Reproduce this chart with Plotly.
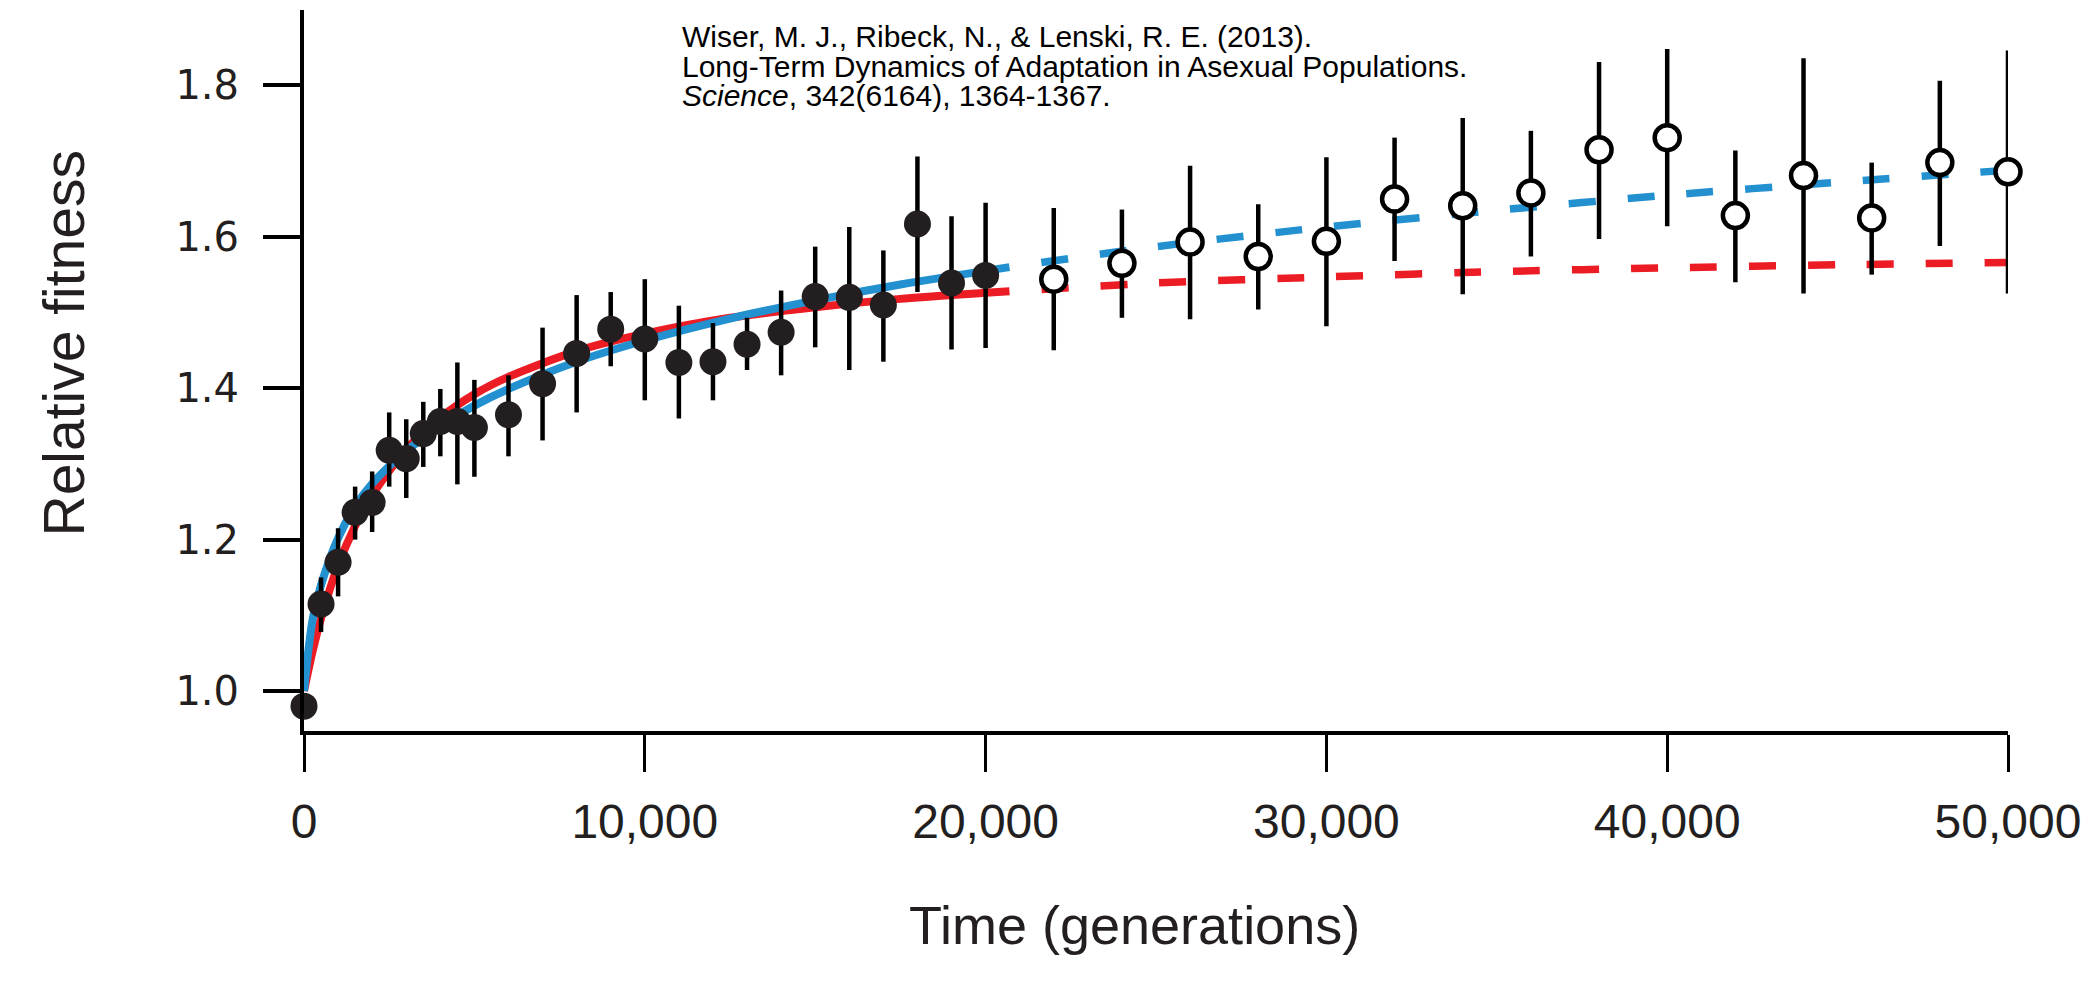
import plotly.graph_objects as go

# ---- data ----
# Fitness measurements, 0-20,000 generations (filled symbols)
gen_early = [0, 500, 1000, 1500, 2000, 2500, 3000, 3500, 4000, 4500, 5000, 6000, 7000,
             8000, 9000, 10000, 11000, 12000, 13000, 14000, 15000, 16000, 17000, 18000,
             19000, 20000]
fit_early = [0.980, 1.115, 1.170, 1.236, 1.249, 1.318, 1.307, 1.340, 1.356, 1.356, 1.348,
             1.365, 1.406, 1.446, 1.478, 1.465, 1.434, 1.435, 1.458, 1.474, 1.521, 1.520,
             1.510, 1.617, 1.539, 1.549]
hi_early = [0.980, 1.150, 1.215, 1.270, 1.290, 1.368, 1.359, 1.382, 1.399, 1.434, 1.411,
            1.417, 1.480, 1.523, 1.527, 1.544, 1.509, 1.486, 1.493, 1.529, 1.587, 1.613,
            1.582, 1.706, 1.627, 1.645]
lo_early = [0.980, 1.078, 1.125, 1.200, 1.210, 1.270, 1.255, 1.296, 1.310, 1.273, 1.283,
            1.310, 1.331, 1.368, 1.429, 1.384, 1.360, 1.384, 1.424, 1.417, 1.454, 1.424,
            1.435, 1.527, 1.451, 1.453]

# Fitness measurements, 22,000-50,000 generations (open symbols)
gen_late = [22000, 24000, 26000, 28000, 30000, 32000, 34000, 36000, 38000, 40000, 42000,
            44000, 46000, 48000, 50000]
fit_late = [1.544, 1.565, 1.593, 1.574, 1.594, 1.650, 1.641, 1.658, 1.715, 1.731, 1.628,
            1.681, 1.625, 1.698, 1.686]
hi_late = [1.638, 1.636, 1.694, 1.643, 1.705, 1.731, 1.757, 1.740, 1.831, 1.848, 1.714,
           1.836, 1.698, 1.806, 1.846]
lo_late = [1.450, 1.493, 1.491, 1.504, 1.482, 1.568, 1.524, 1.574, 1.597, 1.614, 1.540,
           1.525, 1.550, 1.588, 1.525]

# Fitted trajectories
curve_gen_fit = [0, 250, 500, 1000, 1500, 2000, 3000, 4000, 5000, 6000, 8000, 10000,
                 12500, 15000, 17500, 20700]
power_fit = [1.000, 1.094, 1.140, 1.202, 1.244, 1.274, 1.317, 1.350, 1.377, 1.399, 1.435,
             1.463, 1.492, 1.516, 1.537, 1.560]
hyper_fit = [1.000, 1.052, 1.096, 1.166, 1.218, 1.259, 1.319, 1.361, 1.392, 1.415, 1.449,
             1.472, 1.493, 1.507, 1.518, 1.528]

curve_gen_pred = [20700, 25000, 30000, 35000, 40000, 45000, 50000]
power_pred = [1.560, 1.587, 1.613, 1.635, 1.655, 1.672, 1.688]
hyper_pred = [1.528, 1.539, 1.547, 1.554, 1.559, 1.563, 1.566]

x_ticks = [0, 10000, 20000, 30000, 40000, 50000]
x_ticklabels = ["0", "10,000", "20,000", "30,000", "40,000", "50,000"]
y_ticks = [1.0, 1.2, 1.4, 1.6, 1.8]
y_ticklabels = ["1.0", "1.2", "1.4", "1.6", "1.8"]

citation = [
    "Wiser, M. J., Ribeck, N., & Lenski, R. E. (2013).",
    "Long-Term Dynamics of Adaptation in Asexual Populations.",
    "<i>Science</i>, 342(6164), 1364-1367.",
]

# ---- styling ----
RED = "#ec1c24"
BLUE = "#2391d0"
DARK = "#231f20"
ARIAL = "Liberation Sans, Arial, sans-serif"

OFF = 8  # default page body margin
W, H = 2097 - OFF, 990 - OFF
ML, MT = 304 - OFF, 10 - OFF
MR = 2097 - 2008
PLOT_BOTTOM = 731
MB = 990 - PLOT_BOTTOM
plot_w = W - ML - MR
plot_h = H - MT - MB


def px_x(px):
    # page pixel -> paper coordinate
    return (px - OFF - ML) / plot_w


def px_y(py):
    return (H - MB - (py - OFF)) / plot_h


fig = go.Figure()

fig.add_trace(go.Scatter(x=curve_gen_fit, y=hyper_fit, mode="lines",
                         line=dict(color=RED, width=8, shape="spline", smoothing=0.8),
                         hoverinfo="skip", showlegend=False))
fig.add_trace(go.Scatter(x=curve_gen_fit, y=power_fit, mode="lines",
                         line=dict(color=BLUE, width=8, shape="spline", smoothing=0.8),
                         hoverinfo="skip", showlegend=False))
fig.add_trace(go.Scatter(x=curve_gen_pred, y=hyper_pred, mode="lines",
                         line=dict(color=RED, width=7.5, shape="spline", smoothing=0.6,
                                   dash="0px,32px,27px,0px"),
                         hoverinfo="skip", showlegend=False))
fig.add_trace(go.Scatter(x=curve_gen_pred, y=power_pred, mode="lines",
                         line=dict(color=BLUE, width=7.5, shape="spline", smoothing=0.6,
                                   dash="0px,32px,27px,0px"),
                         hoverinfo="skip", showlegend=False))

fig.add_trace(go.Scatter(
    x=gen_early, y=fit_early, mode="markers", cliponaxis=False,
    marker=dict(size=27, color=DARK, line=dict(width=0)),
    error_y=dict(type="data", symmetric=False,
                 array=[h - m for h, m in zip(hi_early, fit_early)],
                 arrayminus=[m - l for m, l in zip(fit_early, lo_early)],
                 color="black", thickness=4.5, width=0),
    showlegend=False))

fig.add_trace(go.Scatter(
    x=gen_late, y=fit_late, mode="markers", cliponaxis=False,
    marker=dict(size=25, color="white", line=dict(width=4.5, color="black")),
    error_y=dict(type="data", symmetric=False,
                 array=[h - m for h, m in zip(hi_late, fit_late)],
                 arrayminus=[m - l for m, l in zip(fit_late, lo_late)],
                 color="black", thickness=4.5, width=0),
    showlegend=False))

y_bottom = 1.0 - 40 / 757
y_top = 1.0 + 681 / 757

fig.update_layout(
    width=W, height=H,
    margin=dict(l=ML, r=MR, t=MT, b=MB, pad=0),
    paper_bgcolor="white", plot_bgcolor="white",
    font=dict(family=ARIAL, color="#231f20"),
    xaxis=dict(range=[0, 50000], tickvals=x_ticks, ticktext=x_ticklabels,
               showgrid=False, zeroline=False, showline=True, linecolor="black",
               linewidth=4, ticks="outside", ticklen=37, tickwidth=3, tickcolor="black",
               tickfont=dict(family=ARIAL, size=48, color="#231f20"),
               ticklabelstandoff=8),
    yaxis=dict(range=[y_bottom, y_top], tickvals=y_ticks, ticktext=y_ticklabels,
               showgrid=False, zeroline=False, showline=True, linecolor="black",
               linewidth=4, ticks="outside", ticklen=37, tickwidth=3.5, tickcolor="black",
               tickfont=dict(family="DejaVu Sans", size=40, color="#231f20"),
               ticklabelstandoff=16),
)

annotations = [
    dict(text="Relative fitness", textangle=-90, x=px_x(63), y=px_y(343.5),
         xref="paper", yref="paper", xanchor="center", yanchor="middle",
         showarrow=False, font=dict(family=ARIAL, size=57, color="#231f20")),
    dict(text="Time (generations)", x=px_x(1134), y=px_y(925),
         xref="paper", yref="paper", xanchor="center", yanchor="middle",
         showarrow=False, font=dict(family=ARIAL, size=54, color="#231f20")),
]
for i, line in enumerate(citation):
    annotations.append(dict(text=line, x=px_x(681), y=px_y(37 + 29.5 * i),
                            xref="paper", yref="paper", xanchor="left", yanchor="middle",
                            showarrow=False, borderpad=0,
                            font=dict(family=ARIAL, size=30, color="black")))
fig.update_layout(annotations=annotations)

fig.write_html("out.html")
